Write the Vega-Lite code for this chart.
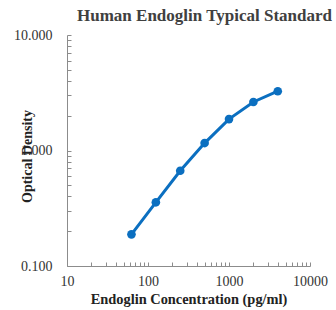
{
  "$schema": "https://vega.github.io/schema/vega-lite/v6.json",
  "autosize": "none",
  "width": 243,
  "height": 231,
  "padding": {"left": 67, "top": 35, "right": 26, "bottom": 44},
  "background": "white",
  "title": {
    "text": "Human Endoglin Typical Standard",
    "font": "Liberation Serif",
    "fontSize": 17,
    "fontWeight": "bold",
    "color": "#404040",
    "anchor": "middle",
    "dx": 16,
    "offset": 3
  },
  "data": {
    "values": [
      {"conc": 62.5, "od": 0.188},
      {"conc": 125, "od": 0.356},
      {"conc": 250, "od": 0.668},
      {"conc": 500, "od": 1.16},
      {"conc": 1000, "od": 1.87},
      {"conc": 2000, "od": 2.63},
      {"conc": 4000, "od": 3.26}
    ]
  },
  "encoding": {
    "x": {
      "field": "conc",
      "type": "quantitative",
      "scale": {"type": "log", "domain": [10, 10000], "nice": false},
      "axis": {
        "title": "Endoglin Concentration (pg/ml)",
        "values": [10,20,30,40,50,60,70,80,90,100,200,300,400,500,600,700,800,900,1000,2000,3000,4000,5000,6000,7000,8000,9000,10000],
        "labelExpr": "(datum.value == 10 || datum.value == 100 || datum.value == 1000 || datum.value == 10000) ? format(datum.value, 'd') : ''",
        "titleFontSize": 14.4,
        "titlePadding": 4
      }
    },
    "y": {
      "field": "od",
      "type": "quantitative",
      "scale": {"type": "log", "domain": [0.1, 10], "nice": false},
      "axis": {
        "title": "Optical Density",
        "values": [0.1,0.2,0.3,0.4,0.5,0.6,0.7,0.8,0.9,1,2,3,4,5,6,7,8,9,10],
        "labelExpr": "(datum.value == 0.1 || datum.value == 1 || datum.value == 10) ? format(datum.value, '.3f') : ''",
        "labelPadding": 19,
        "titleX": -40,
        "titleY": 121,
        "titleAngle": 270,
        "titleAlign": "center",
        "titleBaseline": "middle"
      }
    }
  },
  "layer": [
    {"mark": {"type": "line", "color": "#0B6FC0", "strokeWidth": 3}},
    {"mark": {"type": "point", "filled": true, "color": "#0B6FC0", "size": 75, "opacity": 1}}
  ],
  "config": {
    "view": {"stroke": null},
    "axis": {
      "grid": false,
      "domainColor": "#8c8c8c",
      "tickColor": "#8c8c8c",
      "tickSize": -4,
      "labelFont": "Liberation Serif",
      "labelFontSize": 14,
      "labelColor": "#333333",
      "labelPadding": 12,
      "labelOverlap": false,
      "labelBound": false,
      "labelFlush": false,
      "titleFont": "Liberation Serif",
      "titleFontSize": 14,
      "titleFontWeight": "bold",
      "titleColor": "#222222"
    }
  }
}
